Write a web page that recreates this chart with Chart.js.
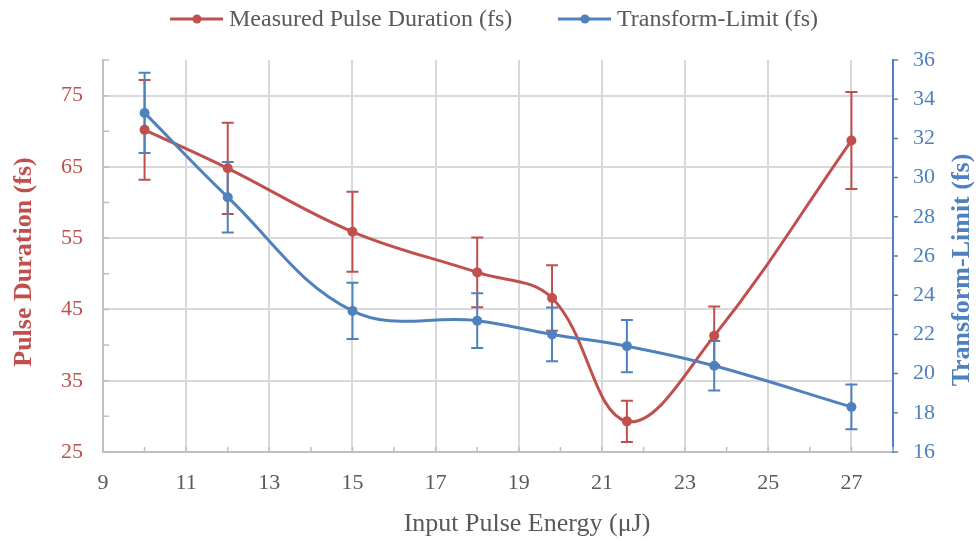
<!DOCTYPE html>
<html>
<head>
<meta charset="utf-8">
<script src="https://cdn.jsdelivr.net/npm/chart.js@4"></script>
<style>
  html, body { margin: 0; padding: 0; background: #fff; }
  #wrap { width: 976px; height: 541px; }
</style>
</head>
<body>
<div id="wrap"><canvas id="pulseChart" width="976" height="541"></canvas></div>
<script>
// =============================
// DATA
// =============================
const energy = [10, 12, 15, 18, 19.8, 21.6, 23.7, 27];
const measured = [70.2, 64.8, 55.9, 50.2, 46.6, 29.3, 41.3, 68.7];
const measuredErr = [7.0, 6.4, 5.6, 4.9, 4.6, 2.9, 4.1, 6.8];
const transform = [33.3, 29.0, 23.2, 22.7, 22.0, 21.4, 20.4, 18.3];
const transformErr = [2.05, 1.8, 1.43, 1.4, 1.37, 1.33, 1.26, 1.14];

const xTicks = [9, 11, 13, 15, 17, 19, 21, 23, 25, 27];
const leftTicks = [25, 35, 45, 55, 65, 75];
const rightTicks = [16, 18, 20, 22, 24, 26, 28, 30, 32, 34, 36];

const seriesNames = ["Measured Pulse Duration (fs)", "Transform-Limit (fs)"];
const xTitle = "Input Pulse Energy (\u03bcJ)";
const leftTitle = "Pulse Duration (fs)";
const rightTitle = "Transform-Limit (fs)";

const RED = "#c0504d";
const BLUE = "#4f81bd";
const GREY = "#595959";
const FONT = "'Liberation Serif', 'Times New Roman', serif";

// =============================
// PLUGINS
// =============================
const errorBars = {
  id: "errorBars",
  beforeDatasetsDraw(chart) {
    const ctx = chart.ctx;
    const xs = chart.scales.x;
    const sets = [
      { axis: "y", vals: measured, errs: measuredErr, color: RED },
      { axis: "y1", vals: transform, errs: transformErr, color: BLUE }
    ];
    ctx.save();
    ctx.lineWidth = 2;
    sets.forEach(s => {
      const ys = chart.scales[s.axis];
      ctx.strokeStyle = s.color;
      s.vals.forEach((v, i) => {
        const x = xs.getPixelForValue(energy[i]);
        const top = ys.getPixelForValue(v + s.errs[i]);
        const bot = ys.getPixelForValue(v - s.errs[i]);
        ctx.beginPath();
        ctx.moveTo(x, top); ctx.lineTo(x, bot);
        ctx.moveTo(x - 6, top); ctx.lineTo(x + 6, top);
        ctx.moveTo(x - 6, bot); ctx.lineTo(x + 6, bot);
        ctx.stroke();
      });
    });
    ctx.restore();
  }
};

const decorations = {
  id: "decorations",
  afterDraw(chart) {
    const ctx = chart.ctx;
    const a = chart.chartArea;
    const xs = chart.scales.x, yl = chart.scales.y, yr = chart.scales.y1;
    ctx.save();

    // small tick marks
    ctx.lineWidth = 1.5;
    ctx.strokeStyle = "#bfbfbf";
    ctx.beginPath();
    for (let v = 9; v <= 28; v++) {
      const x = xs.getPixelForValue(v);
      ctx.moveTo(x, a.bottom); ctx.lineTo(x, a.bottom - 5);
    }
    for (let v = 25; v <= 80; v += 5) {
      const y = yl.getPixelForValue(v);
      ctx.moveTo(a.left, y); ctx.lineTo(a.left + 6, y);
    }
    ctx.stroke();
    ctx.strokeStyle = BLUE;
    ctx.beginPath();
    rightTicks.forEach(v => {
      const y = yr.getPixelForValue(v);
      ctx.moveTo(a.right, y); ctx.lineTo(a.right + 5, y);
    });
    ctx.stroke();

    // axis titles
    ctx.textAlign = "center";
    ctx.textBaseline = "middle";
    ctx.fillStyle = GREY;
    ctx.font = "26px " + FONT;
    ctx.fillText(xTitle, 527, 524);

    ctx.font = "bold 26px " + FONT;
    ctx.fillStyle = RED;
    ctx.save();
    ctx.translate(24, 262);
    ctx.rotate(-Math.PI / 2);
    ctx.fillText(leftTitle, 0, 0);
    ctx.restore();

    ctx.fillStyle = BLUE;
    ctx.save();
    ctx.translate(962, 270);
    ctx.rotate(-Math.PI / 2);
    ctx.fillText(rightTitle, 0, 0);
    ctx.restore();

    // legend
    ctx.font = "24px " + FONT;
    ctx.textAlign = "left";
    const items = [
      { text: seriesNames[0], color: RED, x: 170 },
      { text: seriesNames[1], color: BLUE, x: 558 }
    ];
    items.forEach(it => {
      ctx.strokeStyle = it.color;
      ctx.fillStyle = it.color;
      ctx.lineWidth = 3;
      ctx.beginPath();
      ctx.moveTo(it.x, 19); ctx.lineTo(it.x + 53, 19);
      ctx.stroke();
      ctx.beginPath();
      ctx.arc(it.x + 27, 19, 4.5, 0, Math.PI * 2);
      ctx.fill();
      ctx.fillStyle = GREY;
      ctx.fillText(it.text, it.x + 59, 20);
    });

    ctx.restore();
  }
};

// =============================
// CHART
// =============================
function toPoints(vals) {
  return energy.map((x, i) => ({ x: x, y: vals[i] }));
}

new Chart(document.getElementById("pulseChart"), {
  type: "line",
  data: {
    datasets: [
      {
        label: seriesNames[0],
        data: toPoints(measured),
        yAxisID: "y",
        borderColor: RED,
        backgroundColor: RED,
        borderWidth: 3,
        pointRadius: 5,
        pointBorderWidth: 0,
        tension: 0.38,
        order: 1
      },
      {
        label: seriesNames[1],
        data: toPoints(transform),
        yAxisID: "y1",
        borderColor: BLUE,
        backgroundColor: BLUE,
        borderWidth: 3,
        pointRadius: 5,
        pointBorderWidth: 0,
        tension: 0.38,
        order: 0
      }
    ]
  },
  options: {
    responsive: false,
    animation: false,
    events: [],
    layout: { padding: { top: 60, left: 0, right: 0, bottom: 0 } },
    plugins: {
      legend: { display: false },
      tooltip: { enabled: false }
    },
    scales: {
      x: {
        type: "linear",
        min: 9,
        max: 28,
        afterBuildTicks: s => { s.ticks = xTicks.map(v => ({ value: v })); },
        afterFit: s => { s.height = 89; },
        grid: { color: "#d9d9d9", lineWidth: 2, drawTicks: false },
        border: { color: "#bfbfbf", width: 2 },
        ticks: { color: GREY, padding: 18, font: { family: FONT, size: 22 } }
      },
      y: {
        position: "left",
        min: 25,
        max: 80,
        afterBuildTicks: s => { s.ticks = leftTicks.map(v => ({ value: v })); },
        afterFit: s => { s.width = 103; },
        grid: { color: "#d9d9d9", lineWidth: 2, drawTicks: false },
        border: { color: "#bfbfbf", width: 2 },
        ticks: { color: RED, padding: 20, font: { family: FONT, size: 22 } }
      },
      y1: {
        position: "right",
        min: 16,
        max: 36,
        afterBuildTicks: s => { s.ticks = rightTicks.map(v => ({ value: v })); },
        afterFit: s => { s.width = 83; },
        grid: { display: false, drawTicks: false },
        border: { color: BLUE, width: 2 },
        ticks: { color: BLUE, padding: 20, font: { family: FONT, size: 22 } }
      }
    }
  },
  plugins: [errorBars, decorations]
});
</script>
</body>
</html>
